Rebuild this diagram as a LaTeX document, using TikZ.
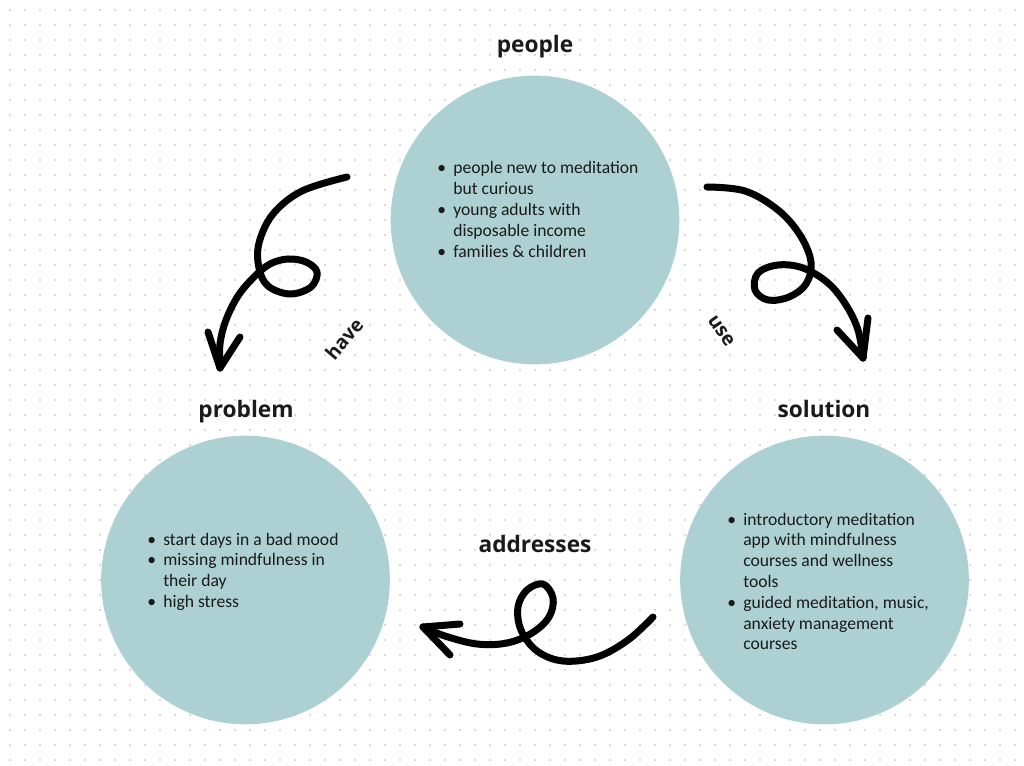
\documentclass[tikz,border=0pt]{standalone}
\usepackage{fontspec}
\setmainfont{Carlito}
\newfontfamily\headfont{Open Sans}
\definecolor{circ}{HTML}{ADD0D3}
\definecolor{dotc}{HTML}{D8D8DE}
\definecolor{ink}{HTML}{1A1A1A}
\newcommand{\bl}{\makebox[12pt][l]{\textbullet}}
\begin{document}
\begin{tikzpicture}[x=0.75pt,y=-0.75pt,
  blob/.style={circle, fill=circ, draw=none, minimum size=216.5pt, inner sep=0},
  head/.style={font=\headfont\bfseries\fontsize{17}{20}\selectfont, text=ink, anchor=base, inner sep=0},
  lbl/.style={font=\headfont\bfseries\fontsize{14.5}{17}\selectfont, text=ink, inner sep=0},
  list/.style={font=\fontsize{13.2}{15.6}\selectfont, text=ink, anchor=base west, inner sep=0},
  curly/.style={line width=5.25pt, line cap=round, line join=round, black},
  griddot/.style={dotc, line width=1.6pt, dash pattern=on 1.6pt off 9.65pt}
]
\useasboundingbox (0,0) rectangle (1024,766);
\fill[white] (0,0) rectangle (1024,766);
% dotted grid
\foreach \y in {10,25,...,760} {\draw[griddot] (9,\y) -- (1024,\y);}

% circles
\node[blob] (people) at (535,220) {};
\node[blob] (problem) at (245.5,580) {};
\node[blob] (solution) at (824.5,580) {};

% headings
\node[head] (hpeople) at (535,53) {people};
\node[head] (hproblem) at (246,417) {problem};
\node[head] (hsolution) at (824,417) {solution};
\node[head] (haddr) at (535,552) {addresses};

% lists
\node[list] (lpeople) at (437,174) {\begin{tabular}[t]{@{}l@{}l@{}}
\bl & people new to meditation\\
    & but curious\\
\bl & young adults with\\
    & disposable income\\
\bl & families \& children
\end{tabular}};
\node[list] (lproblem) at (147,545) {\begin{tabular}[t]{@{}l@{}l@{}}
\bl & start days in a bad mood\\
\bl & missing mindfulness in\\
    & their day\\
\bl & high stress
\end{tabular}};
\node[list] (lsolution) at (727,525) {\begin{tabular}[t]{@{}l@{}l@{}}
\bl & introductory meditation\\
    & app with mindfulness\\
    & courses and wellness\\
    & tools\\
\bl & guided meditation, music,\\
    & anxiety management\\
    & courses
\end{tabular}};

% arrow labels
\node[lbl, rotate=50] (lhave) at (344,339) {have};
\node[lbl, rotate=-55] (luse) at (721,331) {use};

% arrow 1 (people -> problem)
\coordinate (a1s) at (347,177);
\coordinate (a1t) at (220,368);
\draw[curly] plot[smooth, tension=0.6] coordinates {(a1s) (302,191) (273,214) (259,243) (259,268) (268,286) (290,294) (311,287) (317,272) (306,262) (288,259) (270,264) (254,277) (238,296) (226,320) (220,344) (a1t)};
\draw[curly] (a1t) -- (208,332);
\draw[curly] (a1t) -- (240,337);

% arrow 2 (people -> solution)
\coordinate (a2s) at (707,187);
\coordinate (a2t) at (863,358);
\draw[curly] plot[smooth, tension=0.6] coordinates {(a2s) (745,191) (778,210) (800,235) (811,262) (806,284) (789,297) (768,300) (755,290) (758,273) (778,265) (803,268) (828,283) (846,305) (858,330) (a2t)};
\draw[curly] (a2t) -- (837,330);
\draw[curly] (a2t) -- (868,318);

% arrow 3 (solution -> problem)
\coordinate (a3s) at (653,617);
\coordinate (a3t) at (423,627);
\draw[curly] plot[smooth, tension=0.6] coordinates {(a3s) (628,640) (597,657) (563,661) (537,651) (521,630) (518,607) (527,590) (543,584) (553,598) (549,617) (532,633) (507,643) (477,644) (445,636) (a3t)};
\draw[curly] (a3t) -- (460,624);
\draw[curly] (a3t) -- (450,655);
\end{tikzpicture}
\end{document}
